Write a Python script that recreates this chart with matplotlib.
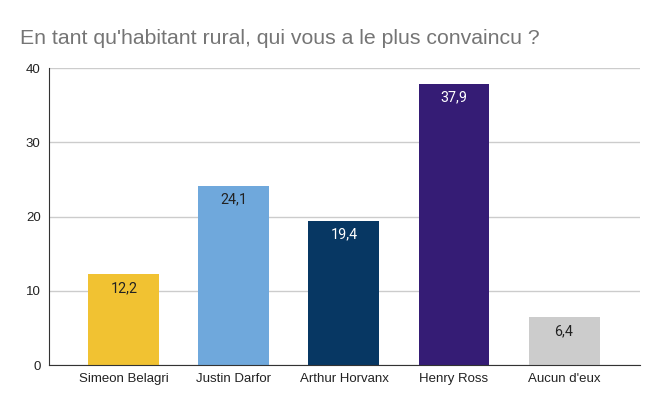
import matplotlib
matplotlib.use("Agg")
import matplotlib.pyplot as plt

categories = ["Simeon Belagri", "Justin Darfor", "Arthur Horvanx", "Henry Ross", "Aucun d'eux"]
values = [12.2, 24.1, 19.4, 37.9, 6.4]
labels = ["12,2", "24,1", "19,4", "37,9", "6,4"]
colors = ["#F1C232", "#6FA8DC", "#073763", "#351C75", "#CCCCCC"]
label_colors = ["#222222", "#222222", "#FFFFFF", "#FFFFFF", "#222222"]
yticks = [0, 10, 20, 30, 40]

fig = plt.figure(figsize=(6.6, 4.08), dpi=100)
ax = fig.add_axes([49/660, 1 - 365/408, (640-49)/660, (365-68)/408])

x = list(range(len(categories)))
bars = ax.bar(x, values, width=0.645, color=colors, zorder=3)
for b, lab, c in zip(bars, labels, label_colors):
    ax.text(b.get_x() + b.get_width()/2, b.get_height() - 0.9, lab,
            ha="center", va="top", fontsize=10.3, color=c, family="Roboto", zorder=4)

ax.set_xlim(-0.68, 4.69)
ax.set_ylim(0, 40)
ax.set_yticks(yticks)
ax.set_yticklabels([str(t) for t in yticks], family="Liberation Sans", fontsize=9.5, color="#222222")
ax.set_xticks(x)
ax.set_xticklabels(categories, family="Liberation Sans", fontsize=9.5, color="#222222")
ax.tick_params(axis="both", length=0, pad=6)
ax.grid(axis="y", color="#CCCCCC", linewidth=1, zorder=0)
for s in ["top", "right"]:
    ax.spines[s].set_visible(False)
ax.spines["left"].set_color("#333333")
ax.spines["bottom"].set_color("#333333")
ax.spines["left"].set_zorder(5)
ax.spines["bottom"].set_zorder(5)

fig.text(20/660, 1 - 38/408, "En tant qu'habitant rural, qui vous a le plus convaincu ?",
         family="Liberation Sans", fontsize=15.3, color="#757575", va="center", ha="left")

fig.savefig("out.png", dpi=100)
